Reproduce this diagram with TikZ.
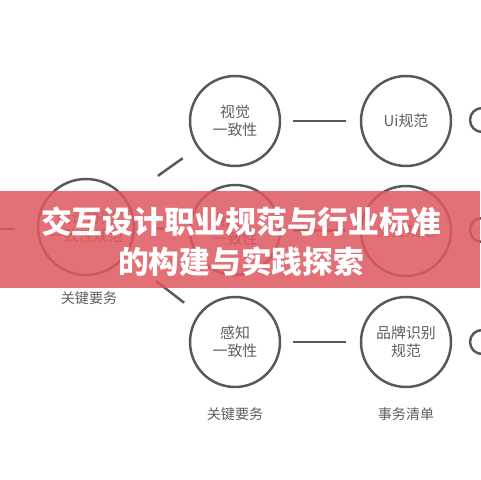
\documentclass[tikz,border=0pt]{standalone}
\usepackage{fontspec}
\newfontfamily\cjk{Noto Sans CJK SC}
\definecolor{ringgray}{RGB}{88,88,88}
\definecolor{textgray}{RGB}{95,95,95}
\definecolor{bannerred}{RGB}{224,88,96}
\begin{document}
\begin{tikzpicture}[x=0.02cm,y=-0.02cm,
	ring/.style={draw=ringgray,line width=1.4pt,circle,minimum size=1.8cm,inner sep=0,align=center,text=textgray,font=\cjk\fontsize{8.5}{10.2}\selectfont},
	link/.style={draw=ringgray,line width=1.4pt},
	note/.style={text=textgray,font=\cjk\fontsize{8}{10}\selectfont}]
	\useasboundingbox [fill=white] (0,0) rectangle (480,480);

	% circles, row by row
	\node [ring, minimum size=1.92cm] at (86,227) (c_l) {设计协同\\一致性规范};
	\foreach \y/\r in {120/t, 230/m, 342/b}
		\node [ring, minimum size=0.48cm] at (482,\y) (e_\r) {};
	\node [ring] at (235,121) (c_t1) {视觉\\一致性};
	\node [ring] at (406,121) (c_t2) {Ui规范};
	\node [ring] at (235,230) (c_m1) {操作\\一致性};
	\node [ring] at (406,231) (c_m2) {交互规范};
	\node [ring] at (235,342) (c_b1) {感知\\一致性};
	\node [ring] at (406,342) (c_b2) {品牌识别\\规范};

	% connectors
	\coordinate (in_l) at (0,229);
	\coordinate (in_r) at (15,229);
	\path [link] (in_l) -- (in_r);
	\path [link, shorten <=0.78cm, shorten >=0.36cm] (c_l) -- (c_t1);
	\path [link, shorten <=0.78cm, shorten >=0.36cm] (c_l) -- (c_b1);
	\path [link, shorten <=0.32cm, shorten >=0.2cm] (c_l) -- (c_m1);
	\foreach \r in {t, m, b}
		\path [link, shorten <=0.24cm, shorten >=0.28cm] (c_\r1) -- (c_\r2);

	% labels
	\node [note] at (89,298) (n_l) {关键要务};
	\node [note] at (235,414) (n_b1) {关键要务};
	\node [note] at (406,414) (n_b2) {事务清单};

	% banner
	\fill [bannerred, opacity=0.85] (0,191) rectangle (480,288);
	\node [text=white, align=center, font=\cjk\bfseries\fontsize{17.5}{22.7}\selectfont] at (241,242) (title) {交互设计职业规范与行业标准\\的构建与实践探索};

\end{tikzpicture}
\end{document}
